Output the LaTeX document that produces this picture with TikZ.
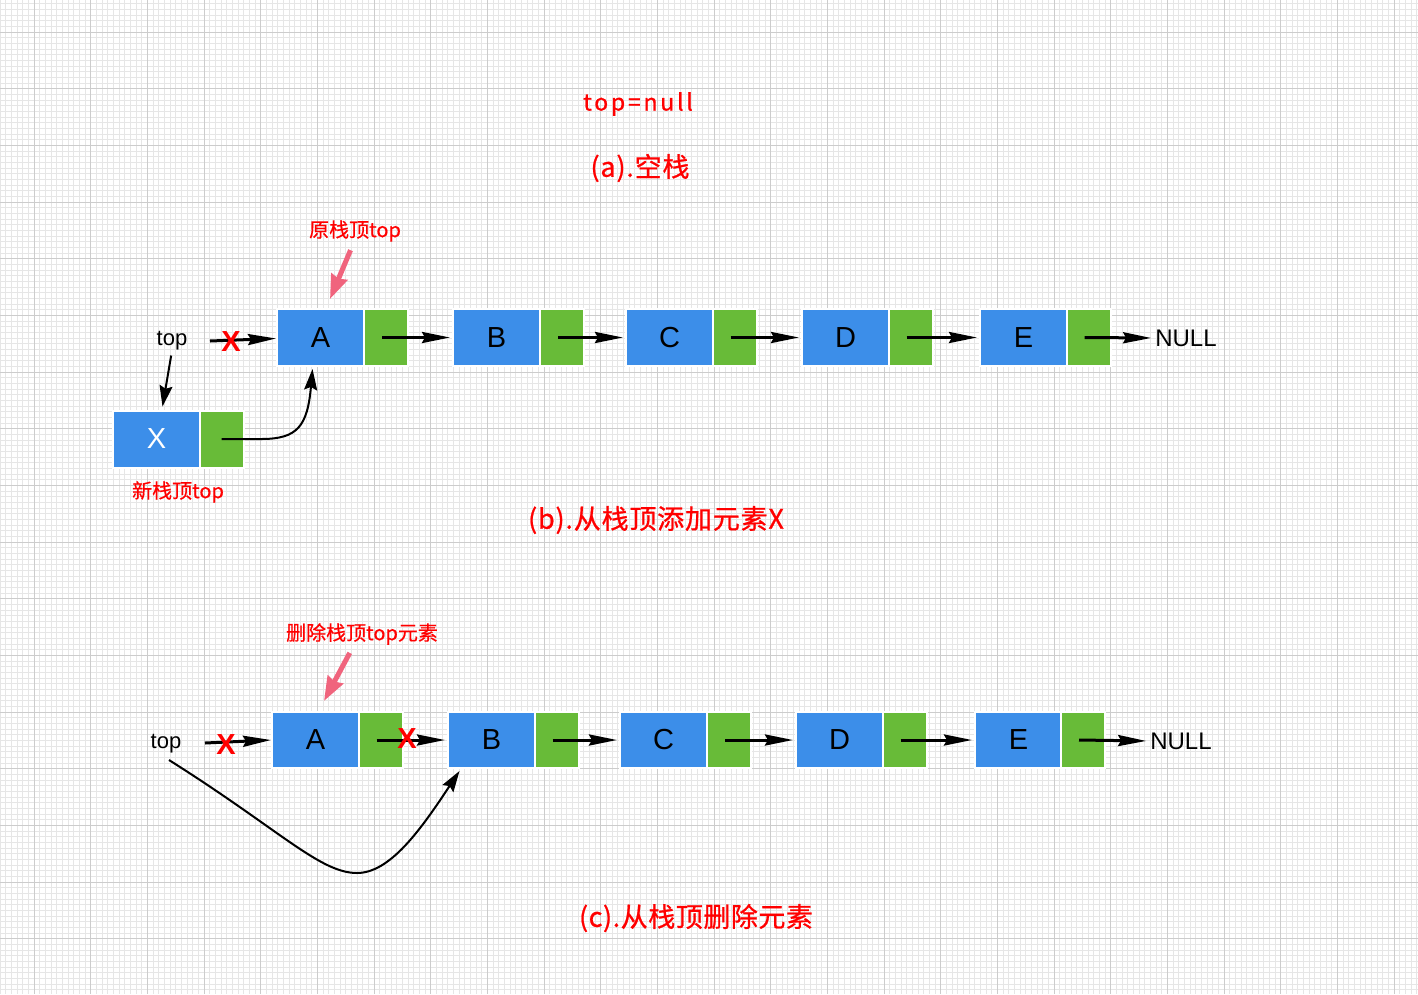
\documentclass[tikz,border=0pt]{standalone}
\usepackage{fontspec}
\setmainfont{Liberation Sans}
\newfontfamily\cjk{Noto Sans CJK SC}
\usetikzlibrary{arrows.meta}
\definecolor{nodeblue}{RGB}{60,142,233}
\definecolor{nodegreen}{RGB}{104,187,56}
\definecolor{pinkarrow}{RGB}{240,100,125}
\definecolor{gridminor}{RGB}{230,230,230}
\definecolor{gridmajor}{RGB}{204,204,204}
\definecolor{titlered}{RGB}{255,0,0}
\tikzset{
  datacell/.style={fill=nodeblue, draw=white, line width=2pt, minimum width=87pt, minimum height=57pt, inner sep=0pt, font=\fontsize{29}{30}\selectfont, text=black},
  ptrcell/.style={fill=nodegreen, draw=white, line width=2pt, minimum width=44pt, minimum height=57pt, inner sep=0pt},
  link/.style={line width=3pt, -{Stealth[length=28pt,width=11pt,inset=3pt]}},
  curvelink/.style={line width=2pt, -{Stealth[length=21pt,width=13pt,inset=3pt]}},
  hint/.style={pinkarrow, line width=5pt, -{Stealth[length=24pt,width=17pt,inset=2pt]}},
  cross/.style={text=red, font=\bfseries\fontsize{29}{29}\selectfont, inner sep=0pt},
  title/.style={text=titlered, inner sep=0pt},
  note/.style={text=titlered, font=\cjk\fontsize{20}{22}\selectfont\addfontfeature{FakeBold=0.5}, inner sep=0pt},
  plain/.style={text=black, font=\fontsize{22}{24}\selectfont, inner sep=0pt},
  nulltext/.style={text=black, font=\fontsize{24}{26}\selectfont, inner sep=0pt},
}
\begin{document}
\begin{tikzpicture}[x=1pt,y=-1pt]
\useasboundingbox (0,0) rectangle (1418,994);
\fill[white] (0,0) rectangle (1418,994);
% grid
\foreach \i in {0,...,250} {\draw[gridminor,line width=1pt] ({\i*5.66667},0) -- ({\i*5.66667},994);}
\foreach \i in {0,...,174} {\draw[gridminor,line width=1pt] (0,{3.6667+\i*5.66667}) -- (1418,{3.6667+\i*5.66667});}
\foreach \k in {0,...,24} {\draw[gridmajor,line width=1pt] ({34+\k*56.6667},0) -- ({34+\k*56.6667},994);}
\foreach \k in {0,...,16} {\draw[gridmajor,line width=1pt] (0,{32+\k*56.6667}) -- (1418,{32+\k*56.6667});}

% titles
\node[title, font=\cjk\fontsize{23}{26}\selectfont\addfontfeature{LetterSpace=12,FakeBold=0.8}] (t0) at (638,104) {top=null};
\node[title, font=\cjk\fontsize{27}{30}\selectfont\addfontfeature{LetterSpace=3,FakeBold=0.8}] (ta) at (640,168) {(a).空栈};
\node[title, font=\cjk\fontsize{27}{30}\selectfont\addfontfeature{LetterSpace=3,FakeBold=0.8}] (tbt) at (656,520) {(b).从栈顶添加元素X};
\node[title, font=\cjk\fontsize{27}{30}\selectfont\addfontfeature{LetterSpace=2,FakeBold=0.8}] (tct) at (696,918) {(c).从栈顶删除元素};

% ---------- (b) ----------
\node[datacell] (A) at (320.5,337.5) {A};
\node[ptrcell] (gA) at (386,337.5) {};
\node[datacell] (B) at (496.5,337.5) {B};
\node[ptrcell] (gB) at (562,337.5) {};
\node[datacell] (C) at (669.5,337.5) {C};
\node[ptrcell] (gC) at (734.5,337.5) {};
\node[datacell] (D) at (845.5,337.5) {D};
\node[ptrcell] (gD) at (910.5,337.5) {};
\node[datacell] (E) at (1023.5,337.5) {E};
\node[ptrcell] (gE) at (1088.5,337.5) {};
\node[nulltext] (nb) at (1186,338) {NULL};
\node[datacell, text=white] (X) at (156.5,439) {X};
\node[ptrcell] (gX) at (221.5,439) {};

\draw[link, shorten >=2pt] ([xshift=-4pt]gA.center) -- (B.west);
\draw[link, shorten >=2pt] ([xshift=-4pt]gB.center) -- (C.west);
\draw[link, shorten >=2pt] ([xshift=-4pt]gC.center) -- (D.west);
\draw[link, shorten >=2pt] ([xshift=-4pt]gD.center) -- (E.west);
\draw[link, shorten >=4pt] ([xshift=-4pt]gE.center) -- (nb.west);

\node[plain] (tb) at (172,341) {top};
\coordinate (tbs) at (210,341);
\draw[link] (tbs) -- ([yshift=-1pt]A.west);
\node[cross] (xb) at (231,342) {X};
\draw[curvelink, shorten <=5pt, shorten >=3pt] (tb.south) -- ([xshift=5.5pt]X.north);
\draw[curvelink] (gX.center) -- ++(40,0) .. controls +(36,0) and +(-5,57) .. ([xshift=-8pt,yshift=-2pt]A.south);

\node[note] (n1) at (355,231) {原栈顶top};
\draw[hint, shorten <=9pt] ([xshift=-1pt]n1.south) -- ([xshift=9.5pt,yshift=9pt]A.north);
\node[note] (n2) at (178,492) {新栈顶top};

% ---------- (c) ----------
\node[datacell, minimum height=56pt] (A2) at (315.5,740) {A};
\node[ptrcell, minimum height=56pt] (gA2) at (380.5,740) {};
\node[datacell, minimum height=56pt] (B2) at (491.5,740) {B};
\node[ptrcell, minimum height=56pt] (gB2) at (556.5,740) {};
\node[datacell, minimum height=56pt] (C2) at (663.5,740) {C};
\node[ptrcell, minimum height=56pt] (gC2) at (729,740) {};
\node[datacell, minimum height=56pt] (D2) at (839.5,740) {D};
\node[ptrcell, minimum height=56pt] (gD2) at (904.5,740) {};
\node[datacell, minimum height=56pt] (E2) at (1018.5,740) {E};
\node[ptrcell, minimum height=56pt] (gE2) at (1083,740) {};
\node[nulltext] (nc) at (1181,741) {NULL};

\draw[link, shorten >=2pt] ([xshift=-4pt]gA2.center) -- (B2.west);
\draw[link, shorten >=2pt] ([xshift=-4pt]gB2.center) -- (C2.west);
\draw[link, shorten >=2pt] ([xshift=-4pt]gC2.center) -- (D2.west);
\draw[link, shorten >=2pt] ([xshift=-4pt]gD2.center) -- (E2.west);
\draw[link, shorten >=4pt] ([xshift=-4pt]gE2.center) -- (nc.west);
\node[cross] (xc2) at (407,739) {X};

\node[plain] (tc) at (166,744) {top};
\coordinate (tcs) at (205,743);
\draw[link] (tcs) -- (A2.west);
\node[cross] (xc1) at (226,745) {X};
\coordinate (tcc) at (169,760);
\coordinate (tcm) at (357,873);
\draw[curvelink] (tcc) .. controls +(111,70) and +(-37,0) .. (tcm) .. controls +(33,0) and +(-39,59) .. ([xshift=-32pt,yshift=-2pt]B2.south);

\node[note] (n3) at (362,634) {删除栈顶top元素};
\draw[hint, shorten <=9pt] ([xshift=-8pt]n3.south) -- ([xshift=8.5pt,yshift=10pt]A2.north);
\end{tikzpicture}
\end{document}
